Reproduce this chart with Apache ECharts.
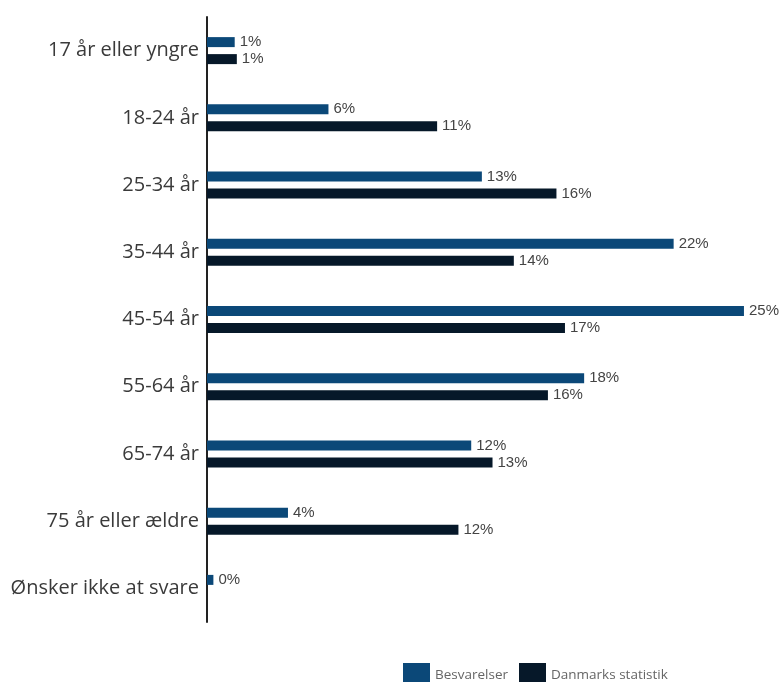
<!DOCTYPE html>
<html lang="da">
<head>
    <meta charset="UTF-8">
    <title>Aldersfordeling</title>
    <script type="text/javascript" src="https://cdn.jsdelivr.net/npm/echarts@6/dist/echarts.min.js"></script>
    <style>
        html, body { margin: 0; padding: 0; background: #fff; }
    </style>
</head>
<body>
<div id="chart" style="width: 784px;height:682px;"></div>

<script type="text/javascript">
    // aldersgrupper
    var categories = ['17 år eller yngre', '18-24 år', '25-34 år', '35-44 år', '45-54 år',
        '55-64 år', '65-74 år', '75 år eller ældre', 'Ønsker ikke at svare'];
    // andele i procent (aflæst fra bjælkernes længde)
    var besvarelser = [1.3, 5.7, 12.9, 21.9, 25.2, 17.7, 12.4, 3.8, 0.3];
    var danmarksStatistik = [1.4, 10.8, 16.4, 14.4, 16.8, 16.0, 13.4, 11.8, null];

    var myChart = echarts.init(document.getElementById('chart'));

    var barLabel = {
        show: true,
        position: 'right',
        distance: 5,
        color: '#444',
        fontFamily: 'Liberation Sans',
        fontSize: 15,
        formatter: function (p) {
            return Math.round(p.value) + '%';
        }
    };

    myChart.setOption({
        animation: false,
        grid: {left: 207, right: 23, top: 17, height: 605},
        legend: {
            left: 398,
            top: 658,
            itemWidth: 27,
            itemHeight: 24,
            itemGap: 11,
            icon: 'rect',
            textStyle: {color: '#666', fontFamily: 'Open Sans', fontSize: 13.5}
        },
        xAxis: {
            type: 'value',
            min: 0,
            max: 26,
            show: false
        },
        yAxis: {
            type: 'category',
            inverse: true,
            data: categories,
            axisLine: {lineStyle: {color: '#222', width: 2}},
            axisTick: {show: false},
            axisLabel: {
                color: '#3a3a3a',
                fontFamily: 'Open Sans',
                fontSize: 20,
                margin: 8
            }
        },
        series: [{
            name: 'Besvarelser',
            type: 'bar',
            data: besvarelser,
            barWidth: 10,
            barGap: '70%',
            itemStyle: {color: '#0b4878'},
            label: barLabel
        }, {
            name: 'Danmarks statistik',
            type: 'bar',
            data: danmarksStatistik,
            barWidth: 10,
            itemStyle: {color: '#061829'},
            label: barLabel
        }]
    });
</script>
</body>
</html>
